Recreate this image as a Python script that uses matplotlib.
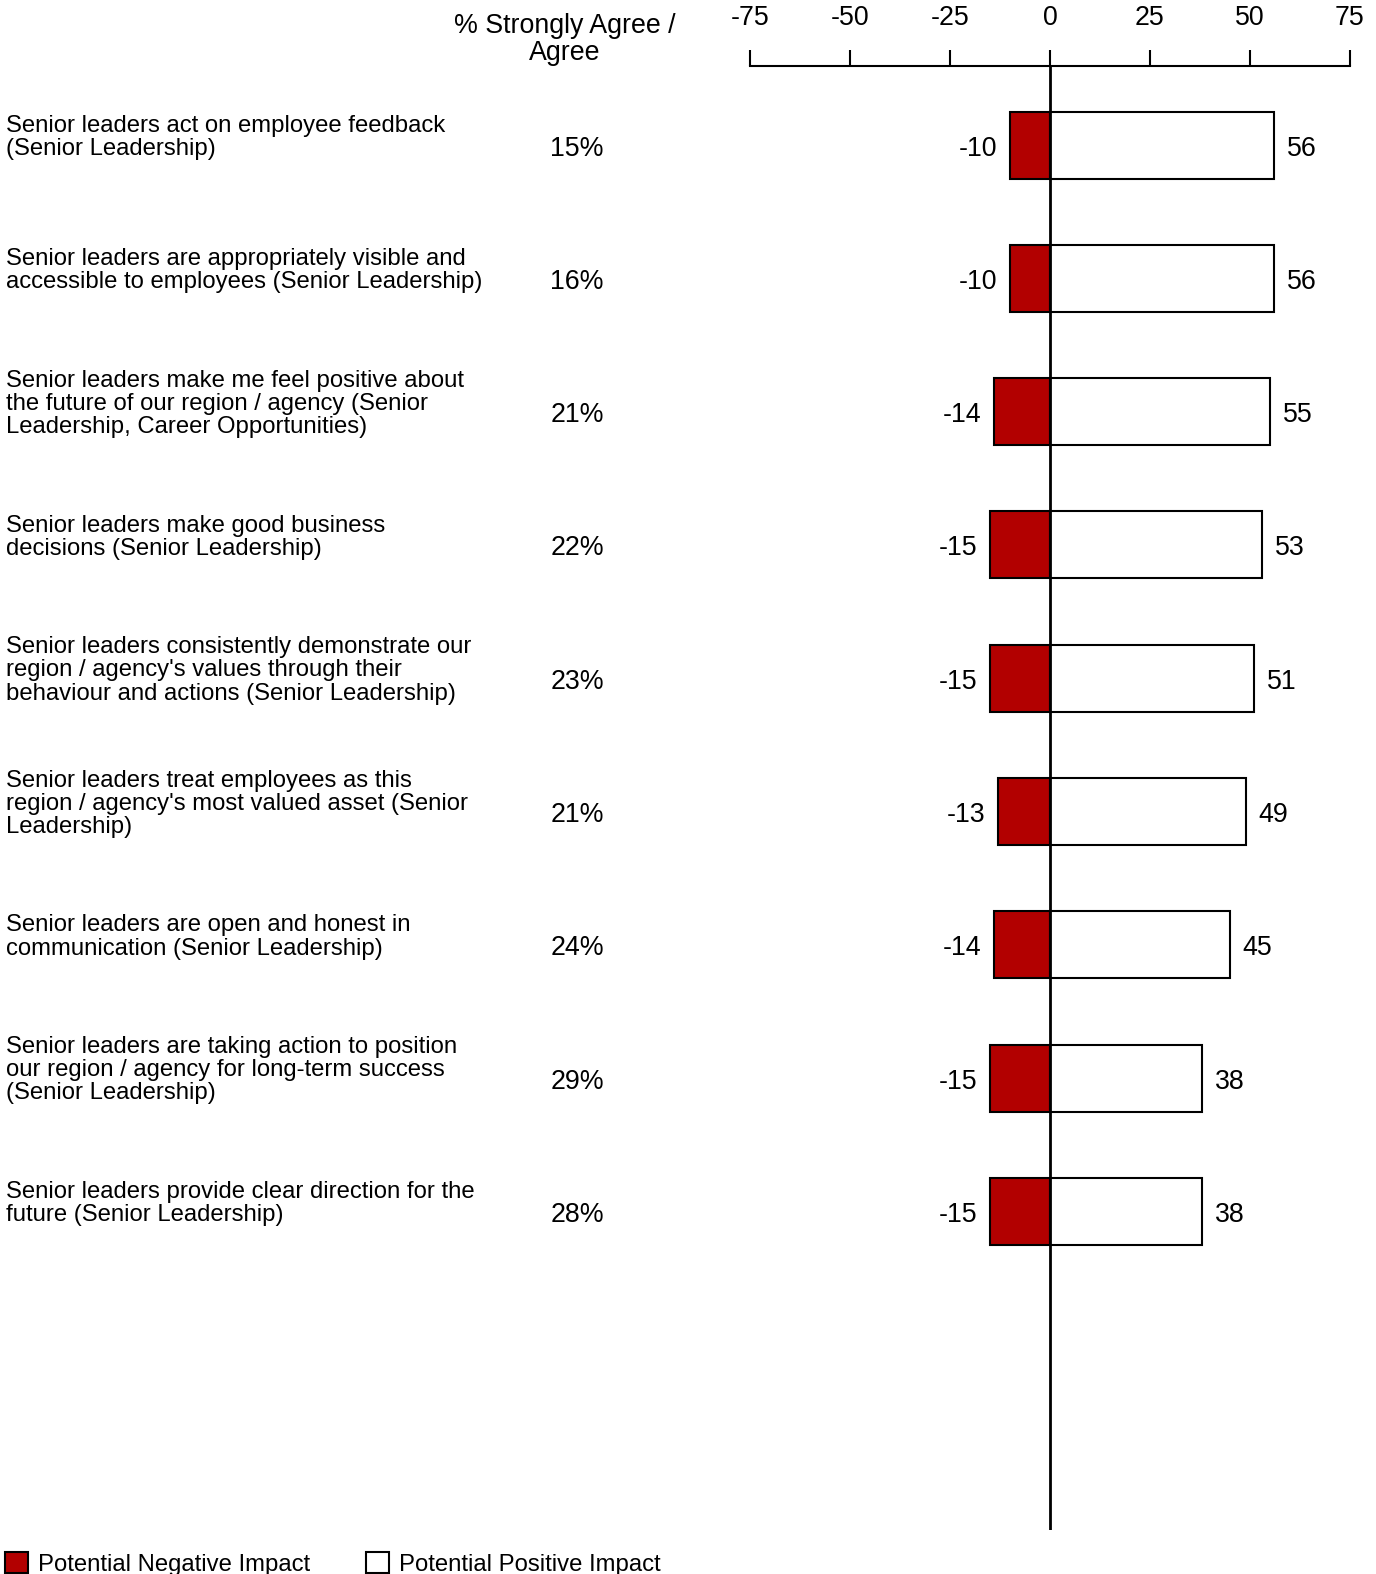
import matplotlib
matplotlib.use("Agg")
import matplotlib.pyplot as plt
from matplotlib.patches import Patch
from matplotlib.transforms import blended_transform_factory

plt.rcParams["font.family"] = ["Liberation Sans", "DejaVu Sans"]

# data
labels = [
    "Senior leaders act on employee feedback\n(Senior Leadership)",
    "Senior leaders are appropriately visible and\naccessible to employees (Senior Leadership)",
    "Senior leaders make me feel positive about\nthe future of our region / agency (Senior\nLeadership, Career Opportunities)",
    "Senior leaders make good business\ndecisions (Senior Leadership)",
    "Senior leaders consistently demonstrate our\nregion / agency's values through their\nbehaviour and actions (Senior Leadership)",
    "Senior leaders treat employees as this\nregion / agency's most valued asset (Senior\nLeadership)",
    "Senior leaders are open and honest in\ncommunication (Senior Leadership)",
    "Senior leaders are taking action to position\nour region / agency for long-term success\n(Senior Leadership)",
    "Senior leaders provide clear direction for the\nfuture (Senior Leadership)",
]
pct_agree = [15, 16, 21, 22, 23, 21, 24, 29, 28]
negative = [-10, -10, -14, -15, -15, -13, -14, -15, -15]
positive = [56, 56, 55, 53, 51, 49, 45, 38, 38]
ticks = [-75, -50, -25, 0, 25, 50, 75]

RED = "#b20000"
W, H = 1376, 1574
NUM_FS = 19.3
LAB_FS = 17.2

fig = plt.figure(figsize=(W / 100, H / 100), dpi=100)
ax = fig.add_axes([750 / W, 1 - 1530 / H, 600 / W, (1530 - 66) / H])

rows = list(range(len(labels)))
bh = 67 / 133.25
ax.barh(rows, negative, height=bh, color=RED, edgecolor="black", lw=1.5, zorder=2)
ax.barh(rows, positive, height=bh, color="white", edgecolor="black", lw=1.5, zorder=2)
ax.axvline(0, color="black", lw=2, zorder=3)

# text sits a few px below the bar centre in the reference
dy = 3.5 / 133.25
for y, n, p in zip(rows, negative, positive):
    ax.annotate(str(n), (n, y + dy), xytext=(-9, 0), textcoords="offset points",
                ha="right", va="center", fontsize=NUM_FS)
    ax.annotate(str(p), (p, y + dy), xytext=(9, 0), textcoords="offset points",
                ha="left", va="center", fontsize=NUM_FS)

ax.set_xlim(-75, 75)
ax.set_ylim(10.39, -0.593)
ax.xaxis.tick_top()
ax.set_xticks(ticks)
ax.set_xticklabels([str(t) for t in ticks])
ax.tick_params(axis="x", length=11.5, width=1.5, pad=14, labelsize=NUM_FS)
ax.set_yticks([])
for s in ("left", "right", "bottom"):
    ax.spines[s].set_visible(False)
ax.spines["top"].set_linewidth(1.5)

tr = blended_transform_factory(fig.transFigure, ax.transData)
for y, lab, pc in zip(rows, labels, pct_agree):
    ax.text(6 / W, y + dy - 0.085, lab, transform=tr, ha="left", va="center",
            fontsize=LAB_FS, linespacing=1.07)
    ax.text(577 / W, y + dy, f"{pc}%", transform=tr, ha="center", va="center",
            fontsize=NUM_FS)

fig.text(565 / W, 1 - 39.5 / H, "% Strongly Agree /\nAgree", ha="center", va="center",
         fontsize=NUM_FS, linespacing=1.08)

handles = [Patch(facecolor=RED, edgecolor="black", lw=1.5, label="Potential Negative Impact"),
           Patch(facecolor="white", edgecolor="black", lw=1.5, label="Potential Positive Impact")]
fig.legend(handles=handles, loc="lower left", bbox_to_anchor=(5 / W, -2 / H), ncol=2,
           frameon=False, fontsize=LAB_FS, handlelength=0.95, handleheight=0.95,
           handletextpad=0.42, columnspacing=2.35, borderpad=0, borderaxespad=0)

fig.savefig("out.png", dpi=100)
